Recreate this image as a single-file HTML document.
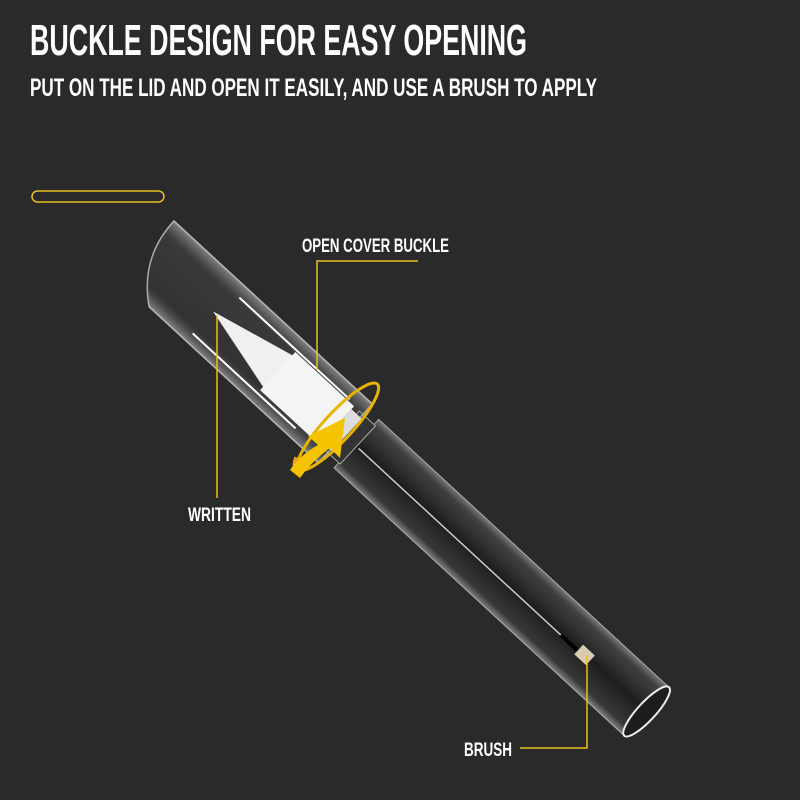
<!DOCTYPE html>
<html><head><meta charset="utf-8"><style>
html,body{margin:0;padding:0;background:#2a2a2a;}
svg{display:block}
text{font-family:"Liberation Sans Narrow","Liberation Sans",sans-serif;font-weight:bold;fill:#fff}
</style></head><body>
<svg width="800" height="800" viewBox="0 0 800 800" xmlns="http://www.w3.org/2000/svg">
<defs>
<linearGradient id="tube" x1="0" y1="0" x2="0" y2="1">
<stop offset="0" stop-color="#bbb" stop-opacity="0.55"/>
<stop offset="0.12" stop-color="#555" stop-opacity="0.5"/>
<stop offset="0.5" stop-color="#151515" stop-opacity="0.6"/>
<stop offset="0.88" stop-color="#444" stop-opacity="0.5"/>
<stop offset="1" stop-color="#ccc" stop-opacity="0.55"/>
</linearGradient>
<linearGradient id="cap" x1="0" y1="0" x2="0" y2="1">
<stop offset="0" stop-color="#ddd" stop-opacity="0.5"/>
<stop offset="0.2" stop-color="#777" stop-opacity="0.2"/>
<stop offset="0.8" stop-color="#555" stop-opacity="0.2"/>
<stop offset="1" stop-color="#ddd" stop-opacity="0.5"/>
</linearGradient>
</defs>
<rect width="800" height="800" fill="#2a2a2a"/>
<text x="30" y="55" font-size="44" textLength="497" lengthAdjust="spacingAndGlyphs">BUCKLE DESIGN FOR EASY OPENING</text>
<text x="30" y="96" font-size="25" textLength="567" lengthAdjust="spacingAndGlyphs">PUT ON THE LID AND OPEN IT EASILY, AND USE A BRUSH TO APPLY</text>
<rect x="32" y="191" width="132" height="11" rx="5.5" fill="none" stroke="#e8c020" stroke-width="1.5"/>

<g transform="translate(360,447) rotate(42.7)">
  <rect x="-5" y="-33" width="395" height="66" fill="url(#tube)" stroke="#ddd" stroke-opacity="0.6"/>
  <ellipse cx="390" cy="0" rx="9" ry="33" fill="#1d1d1d" stroke="#eee" stroke-width="2"/>
  <line x1="0" y1="2" x2="290" y2="2" stroke="#ccc" stroke-width="1.5"/>
  <line x1="275" y1="2" x2="300" y2="2" stroke="#000" stroke-width="4"/>
  <rect x="298" y="-6" width="16" height="13" fill="#d8cbb0"/>
  <rect x="-25" y="-26" width="22" height="52" fill="#333" stroke="#ddd" stroke-opacity="0.7"/>
  <path d="M-290,-40 L-20,-40 L-20,40 L-250,40 Q-290,10 -290,-40 Z" fill="url(#cap)" stroke="#ddd" stroke-opacity="0.7" stroke-width="1.5"/>
  <line x1="-190" y1="-28" x2="-40" y2="-28" stroke="#fff" stroke-width="2"/>
  <line x1="-200" y1="30" x2="-60" y2="30" stroke="#fff" stroke-width="2"/>
  <path d="M-200,0 L-110,-22 L-110,22 Z" fill="#f0f0f0"/>
  <rect x="-112" y="-26" width="80" height="52" fill="#f4f4f4"/>
  <rect x="-32" y="-22" width="14" height="44" fill="#ddd"/>
  <ellipse cx="-30" cy="0" rx="14" ry="58" fill="none" stroke="#e6b400" stroke-width="3"/>
  <path d="M-38,50 A14,58 0 0 0 -30,58" fill="none" stroke="#f0a020" stroke-width="8"/>
</g>
<path d="M290,470 Q300,455 318,445 L308,436 L345,418 L340,458 L330,448 Q313,460 300,478 Z" fill="#f5c400"/>
<text x="302" y="252" font-size="19" textLength="147" lengthAdjust="spacingAndGlyphs">OPEN COVER BUCKLE</text>
<polyline points="418,261 317,261 317,370" fill="none" stroke="#e8c020" stroke-width="1.5"/>
<text x="188" y="521" font-size="19" textLength="63" lengthAdjust="spacingAndGlyphs">WRITTEN</text>
<line x1="217" y1="315" x2="217" y2="498" stroke="#e8c020" stroke-width="1.5"/>
<text x="464" y="756" font-size="19" textLength="48" lengthAdjust="spacingAndGlyphs">BRUSH</text>
<polyline points="520,748 587,748 587,655" fill="none" stroke="#e8c020" stroke-width="1.5"/>
</svg>
</body></html>
